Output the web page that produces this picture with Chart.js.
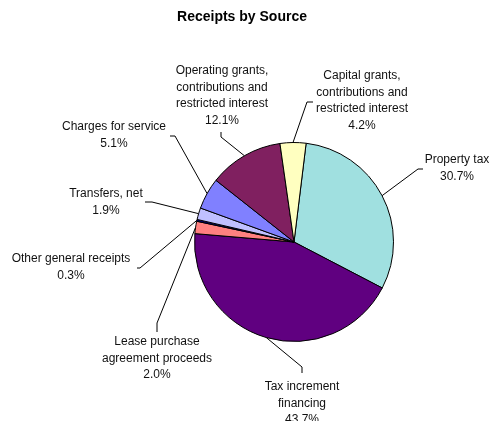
<!DOCTYPE html>
<html>
<head>
<meta charset="utf-8">
<script src="https://cdn.jsdelivr.net/npm/chart.js@4/dist/chart.umd.min.js"></script>
<style>
  body { margin: 0; background: #fff; }
  canvas { display: block; }
</style>
</head>
<body>
<canvas id="chart" width="490" height="421"></canvas>
<script>
// data, clockwise from just right of 12 o'clock
var categories = ['Property tax', 'Tax increment financing', 'Lease purchase agreement proceeds',
  'Other general receipts', 'Transfers, net', 'Charges for service',
  'Operating grants, contributions and restricted interest',
  'Capital grants, contributions and restricted interest'];
var shares = [30.7, 43.7, 2.0, 0.3, 1.9, 5.1, 12.1, 4.2];
// how each label is wrapped in the picture
var labelLines = [
  ['Property tax'],
  ['Tax increment', 'financing'],
  ['Lease purchase', 'agreement proceeds'],
  ['Other general receipts'],
  ['Transfers, net'],
  ['Charges for service'],
  ['Operating grants,', 'contributions and', 'restricted interest'],
  ['Capital grants,', 'contributions and', 'restricted interest']
];
var colors = ['#A0E0E0', '#600080', '#FF8080', '#000080', '#C0C0FF', '#8080FF', '#802060', '#FFFFC0'];

// label placement relative to the pie centre: text centre, elbow, tick end
var labelPos = [
  {tx: 163, ty: -82, ex: 124, ey: -73, kx: 129, ky: -73},
  {tx: 8, ty: 145, ex: 8, ey: 125, kx: 8, ky: 131},
  {tx: -137, ty: 100, ex: -137, ey: 81, kx: -137, ky: 90},
  {tx: -223, ty: 17, ex: -154, ey: 26, kx: -157, ky: 26},
  {tx: -188, ty: -48, ex: -142, ey: -40, kx: -149, ky: -40},
  {tx: -180, ty: -115, ex: -119, ey: -106, kx: -124, ky: -106},
  {tx: -72, ty: -171, ex: -73, ey: -105, kx: -73, ky: -110},
  {tx: 68, ty: -166, ex: 13, ey: -140, kx: 19, ky: -140}
];

var labelPlugin = {
  id: 'pieLabels',
  afterDraw: function(chart) {
    var ctx = chart.ctx;
    ctx.save();
    // title
    ctx.fillStyle = '#000';
    ctx.font = 'bold 14px "Liberation Sans", Arial, sans-serif';
    ctx.textAlign = 'center';
    ctx.textBaseline = 'middle';
    ctx.fillText('Receipts by Source', 242, 17);

    var arcs = chart.getDatasetMeta(0).data;
    ctx.font = '12px "Liberation Sans", Arial, sans-serif';
    ctx.fillStyle = '#111';
    ctx.strokeStyle = '#000';
    ctx.lineWidth = 1;
    arcs.forEach(function(arc, i) {
      var p = arc.getProps(['x', 'y', 'startAngle', 'endAngle', 'outerRadius'], true);
      var mid = (p.startAngle + p.endAngle) / 2;
      var sx = p.x + Math.cos(mid) * p.outerRadius;
      var sy = p.y + Math.sin(mid) * p.outerRadius;
      var lp = labelPos[i];
      ctx.beginPath();
      ctx.moveTo(sx, sy);
      ctx.lineTo(p.x + lp.ex, p.y + lp.ey);
      ctx.lineTo(p.x + lp.kx, p.y + lp.ky);
      ctx.stroke();

      var lines = labelLines[i].concat([shares[i].toFixed(1) + '%']);
      lines.forEach(function(t, j) {
        ctx.fillText(t, p.x + lp.tx, p.y + lp.ty + j * 16.4);
      });
    });
    ctx.restore();
  }
};

new Chart(document.getElementById('chart').getContext('2d'), {
  type: 'pie',
  data: {
    labels: categories,
    datasets: [{
      data: shares,
      backgroundColor: colors,
      borderColor: '#000',
      borderWidth: 1
    }]
  },
  options: {
    responsive: false,
    animation: false,
    rotation: 7,
    layout: { padding: { left: 194, right: 96, top: 142, bottom: 79 } },
    plugins: {
      legend: { display: false },
      tooltip: { enabled: false }
    }
  },
  plugins: [labelPlugin]
});
</script>
</body>
</html>
